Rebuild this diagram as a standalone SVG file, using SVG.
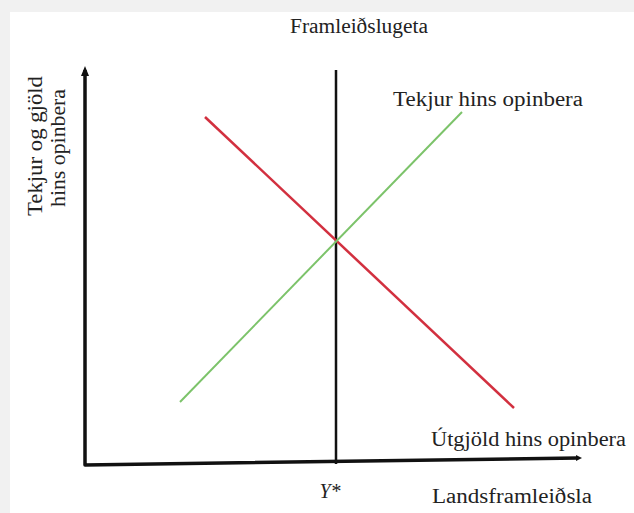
<svg xmlns="http://www.w3.org/2000/svg" width="634" height="513" viewBox="0 0 634 513">
<style>
text{font-family:"Liberation Serif","Times New Roman",serif;fill:#222;font-size:20px}
.axis{stroke:#111;stroke-width:3.5;fill:none;stroke-linejoin:round}
</style>
<defs>
<marker id="ah" markerWidth="8" markerHeight="8" refX="2" refY="4" orient="auto" markerUnits="userSpaceOnUse">
<path d="M0,1 L6,4 L0,7 z" fill="#111"/>
</marker>
</defs>
<rect width="634" height="513" fill="#f1f1f1"/>
<rect x="10" y="12" width="624" height="501" fill="#fff"/>
<g id="connectors">
<path class="axis" d="M85,70 L85,465 L578,458" marker-end="url(#ah)"/>
<line x1="336" y1="70" x2="336" y2="464" stroke="#111" stroke-width="2.5"/>
<line x1="205" y1="117" x2="514" y2="408" stroke="#d2303f" stroke-width="2.5"/>
<line x1="180" y1="402" x2="462" y2="112" stroke="#7cc36a" stroke-width="2"/>
</g>
<g id="yaxis-arrow"><path d="M81,76 L85,66 L89,76 z" fill="#111"/></g>
<g id="title"><text x="290" y="33" textLength="138" lengthAdjust="spacingAndGlyphs">Framleiðslugeta</text></g>
<g id="ylabel"><text transform="translate(42,146) rotate(-90)" text-anchor="middle" textLength="140" lengthAdjust="spacingAndGlyphs">Tekjur og gjöld</text><text transform="translate(65,148) rotate(-90)" text-anchor="middle" textLength="118" lengthAdjust="spacingAndGlyphs">hins opinbera</text></g>
<g id="tekjur"><text x="393" y="106" textLength="190" lengthAdjust="spacingAndGlyphs">Tekjur hins opinbera</text></g>
<g id="utgjold"><text x="431" y="446" textLength="195" lengthAdjust="spacingAndGlyphs">Útgjöld hins opinbera</text></g>
<g id="ystar"><text x="330" y="498" text-anchor="middle" font-size="15" font-style="italic">Y*</text></g>
<g id="xlabel"><text x="432" y="503" textLength="160" lengthAdjust="spacingAndGlyphs">Landsframleiðsla</text></g>
</svg>
